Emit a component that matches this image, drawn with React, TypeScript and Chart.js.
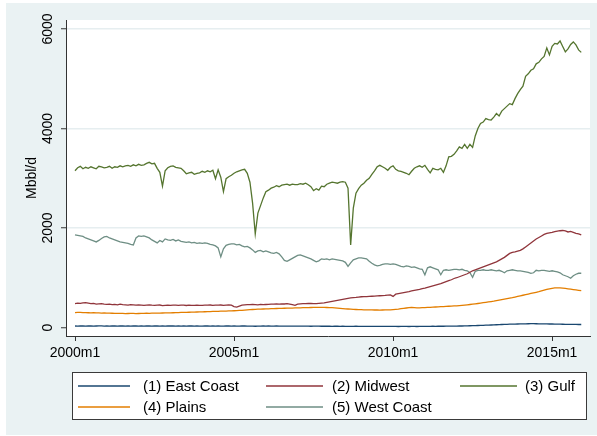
import React, { useEffect, useRef } from "react";
import { Chart, registerables } from "chart.js";

Chart.register(...registerables);

const START_YEAR = 2000;
const N_MONTHS = 192;
const monthCategories: string[] = Array.from({ length: N_MONTHS }, (_, i) => `${START_YEAR + Math.floor(i / 12)}m${(i % 12) + 1}`);
const xTickMonths = [0, 60, 120, 180];
const xTickLabels = ["2000m1", "2005m1", "2010m1", "2015m1"];
const yTickValues = [0, 2000, 4000, 6000];
const yTickLabels = ["0", "2000", "4000", "6000"];
const yTitle = "Mbbl/d";

const seriesNames = ["(1) East Coast", "(2) Midwest", "(3) Gulf", "(4) Plains", "(5) West Coast"];
const seriesColors = ["#1A476F", "#90353B", "#55752F", "#E37E00", "#6E8E84"];

const eastCoast = [
  30, 28, 32, 30, 29, 31, 30, 28, 30, 32, 31, 29,
  30, 29, 31, 30, 28, 30, 31, 29, 30, 28, 30, 31,
  29, 30, 28, 31, 30, 29, 30, 31, 29, 30, 28, 30,
  30, 31, 29, 30, 28, 30, 29, 31, 30, 29, 30, 28,
  29, 30, 31, 29, 30, 28, 30, 29, 27, 30, 31, 29,
  30, 28, 29, 30, 31, 29, 28, 26, 25, 28, 29, 30,
  29, 30, 28, 29, 30, 28, 27, 29, 28, 27, 28, 27,
  26, 27, 28, 26, 27, 25, 26, 27, 26, 25, 26, 25,
  25, 24, 26, 25, 24, 25, 23, 24, 22, 24, 25, 24,
  23, 24, 22, 23, 22, 21, 22, 23, 22, 21, 22, 21,
  21, 22, 20, 21, 22, 21, 20, 21, 22, 20, 21, 22,
  22, 23, 24, 25, 24, 25, 26, 25, 26, 27, 26, 27,
  28, 30, 30, 32, 34, 35, 36, 38, 40, 42, 44, 46,
  48, 50, 52, 55, 58, 60, 62, 64, 66, 68, 68, 70,
  72, 74, 74, 75, 76, 76, 75, 74, 73, 72, 72, 70,
  70, 68, 68, 66, 65, 64, 64, 63, 62, 62, 60, 60,
];

const midwest = [
  480, 490, 485, 495, 500, 490, 480, 485, 470, 475, 480, 470,
  465, 470, 460, 465, 455, 470, 460, 455, 450, 460, 455, 450,
  455, 450, 445, 450, 455, 448, 445, 450, 452, 440, 445, 450,
  445, 450, 448, 445, 450, 448, 442, 450, 446, 444, 450, 446,
  445, 450, 448, 452, 446, 450, 448, 452, 445, 450, 455, 448,
  420, 410, 430, 450, 455, 460, 458, 462, 460, 455, 465, 460,
  462, 465, 468, 470, 472, 470, 475, 472, 478, 470, 460, 445,
  470, 475, 478, 480, 482, 485, 480, 478, 485, 490, 495, 505,
  515, 525, 535, 545, 555, 566, 575, 585, 595, 600, 605, 612,
  618, 620, 622, 625, 628, 630, 635, 638, 642, 645, 650, 655,
  625, 670, 680, 690, 700, 710, 720, 735, 745, 755, 765, 780,
  790, 805, 820, 835, 850, 865, 880, 900, 920, 940, 960, 985,
  1000, 1020, 1040, 1060, 1080, 1110, 1140, 1160, 1180, 1200, 1220, 1240,
  1260, 1280, 1300, 1320, 1350, 1380, 1410, 1450, 1490, 1510, 1520, 1535,
  1550, 1580, 1620, 1660, 1700, 1740, 1780, 1810, 1840, 1870, 1890, 1900,
  1910, 1925, 1935, 1945, 1950, 1940, 1920, 1930, 1910, 1890, 1880, 1860,
];

const gulf = [
  3150, 3210, 3240, 3190, 3220, 3200, 3230, 3210, 3190, 3240, 3230, 3210,
  3220, 3240, 3200, 3230, 3220, 3250, 3230, 3250, 3260, 3240, 3270, 3250,
  3280, 3260, 3270, 3300, 3320, 3290, 3300, 3200, 3120, 2840, 3150, 3210,
  3240, 3250, 3220, 3210, 3200, 3150, 3090, 3110, 3120, 3080, 3100, 3110,
  3140, 3120, 3150, 3130, 3160, 2990, 3170, 3020, 2730, 2990, 3030, 3060,
  3100, 3130, 3150, 3170, 3180, 3100, 2920, 2500, 1880, 2300, 2450, 2600,
  2730, 2760, 2800, 2820, 2850, 2830, 2860, 2870, 2880, 2860, 2880, 2870,
  2870, 2890, 2880, 2900, 2870, 2830, 2750, 2790, 2760, 2840, 2830, 2880,
  2900, 2920, 2910, 2900, 2920, 2930, 2920, 2800, 1660, 2400, 2700, 2790,
  2860, 2900, 2960, 3000, 3080, 3150, 3230, 3260, 3230, 3200, 3160, 3220,
  3250, 3180, 3150, 3140, 3120, 3100, 3070, 3140, 3200, 3230, 3250, 3220,
  3260, 3180, 3110, 3200, 3180, 3170, 3200, 3120, 3250, 3430, 3440, 3480,
  3550, 3630, 3600, 3680, 3600, 3680, 3620, 3850, 4000, 4100, 4130, 4200,
  4180, 4170, 4230, 4300, 4250, 4350, 4400, 4450, 4500, 4480, 4600, 4700,
  4780, 4850, 5050, 5100, 5170, 5200, 5300, 5330, 5400, 5450, 5620, 5480,
  5650, 5710, 5700, 5760, 5650, 5540, 5600, 5690, 5740, 5680, 5580, 5530,
];

const plains = [
  300, 302, 305, 300, 298, 296, 295, 297, 294, 292, 290, 292,
  290, 288, 286, 285, 284, 283, 282, 280, 281, 283, 282, 280,
  281, 283, 284, 286, 285, 287, 288, 290, 289, 291, 292, 294,
  295, 296, 298, 300, 302, 303, 305, 306, 308, 310, 311, 312,
  314, 316, 318, 320, 322, 324, 325, 327, 329, 331, 333, 335,
  337, 340, 343, 346, 350, 354, 358, 362, 365, 368, 370, 372,
  374, 376, 378, 380, 382, 384, 386, 387, 389, 390, 391, 393,
  394, 396, 398, 399, 400, 402, 403, 404, 405, 406, 404, 402,
  400, 398, 395, 390, 385, 380, 376, 372, 368, 365, 362, 360,
  358, 356, 355, 354, 353, 352, 352, 351, 352, 353, 354, 356,
  360, 365, 370, 378, 385, 392, 398, 404, 400, 396, 395, 398,
  400, 403, 406, 409, 412, 415, 418, 421, 424, 427, 430, 433,
  436, 440, 445, 450, 456, 462, 468, 475, 482, 490, 498, 506,
  514, 522, 530, 540, 550, 560, 570, 580, 590, 600, 612, 624,
  636, 648, 660, 672, 684, 696, 708, 720, 735, 750, 765, 778,
  788, 795, 798, 795, 790, 785, 778, 770, 762, 755, 748, 740,
];

const westCoast = [
  1860, 1850, 1840, 1830, 1800, 1780, 1760, 1740, 1720, 1750, 1790, 1820,
  1830, 1800, 1780, 1760, 1740, 1720, 1710, 1700, 1690, 1670, 1660, 1800,
  1840, 1830, 1840, 1820, 1800, 1760, 1730, 1700, 1750, 1720, 1780, 1760,
  1750, 1770, 1740, 1760, 1730, 1720, 1710, 1720, 1700, 1710, 1690, 1700,
  1690, 1700, 1690, 1670, 1660, 1640, 1600, 1420, 1580, 1650, 1670, 1680,
  1680, 1660, 1670, 1640, 1620, 1630, 1600, 1560, 1510, 1540, 1550, 1520,
  1540, 1520, 1500, 1490, 1510, 1480, 1420, 1350, 1330, 1360, 1390, 1420,
  1450, 1460, 1440, 1420, 1400, 1380, 1350, 1320, 1340, 1380, 1370, 1380,
  1360, 1380, 1370, 1360, 1350, 1340, 1310, 1230, 1300, 1360, 1380, 1400,
  1400, 1390, 1380, 1330, 1290, 1260, 1240, 1250, 1270, 1280, 1280, 1270,
  1280, 1270, 1250, 1230, 1220, 1240, 1230, 1210, 1220, 1200, 1180, 1170,
  1060, 1200, 1220, 1200, 1180, 1160, 1060, 1150, 1160, 1150, 1160, 1170,
  1170, 1160, 1170, 1150, 1140, 1100, 1010, 1130, 1150, 1150, 1160, 1150,
  1150, 1160, 1150, 1140, 1150, 1130, 1100, 1140, 1150, 1160, 1150, 1140,
  1140, 1130, 1120, 1110, 1090, 1100, 1150, 1140, 1150, 1150, 1140, 1130,
  1140, 1130, 1120, 1100, 1060, 1040, 1020, 990, 1040, 1070, 1090, 1090,
];

const seriesValues = [eastCoast, midwest, gulf, plains, westCoast];

const FONT = "'Liberation Sans', Arial, Helvetica, sans-serif";

const stataPlugin = {
  id: "stataDecor",
  beforeDraw(chart: any) {
    const { ctx, width, height, chartArea } = chart;
    ctx.save();
    ctx.fillStyle = "#ffffff";
    ctx.fillRect(0, 0, width, height);
    ctx.fillStyle = "#EAF2F3";
    ctx.fillRect(6, 3, width - 6, height - 4);
    ctx.fillStyle = "#ffffff";
    ctx.fillRect(chartArea.left, chartArea.top, chartArea.right - chartArea.left, chartArea.bottom - chartArea.top);
    ctx.restore();
  },
  afterDraw(chart: any) {
    const { ctx } = chart;
    const yScale = chart.scales.y;
    ctx.save();
    ctx.fillStyle = "#000";
    ctx.font = `14px ${FONT}`;
    ctx.textAlign = "center";
    ctx.textBaseline = "middle";
    yTickValues.forEach((v, i) => {
      const py = yScale.getPixelForValue(v);
      ctx.save();
      ctx.translate(48, py);
      ctx.rotate(-Math.PI / 2);
      ctx.fillText(yTickLabels[i], 0, 0);
      ctx.restore();
    });
    // axis title
    ctx.save();
    ctx.font = `14px ${FONT}`;
    ctx.translate(32, (chart.chartArea.top + chart.chartArea.bottom) / 2);
    ctx.rotate(-Math.PI / 2);
    ctx.fillText(yTitle, 0, 0);
    ctx.restore();

    // legend
    const bx = 72, by = 372, bw = 515, bh = 48;
    ctx.fillStyle = "#ffffff";
    ctx.fillRect(bx, by, bw, bh);
    ctx.strokeStyle = "#3a3a3a";
    ctx.lineWidth = 1;
    ctx.strokeRect(bx + 0.5, by + 0.5, bw - 1, bh - 1);
    const cols = [
      { x0: 78, x1: 130, tx: 143 },
      { x0: 266, x1: 323, tx: 332 },
      { x0: 460, x1: 517, tx: 525 },
    ];
    const rows = [386, 407];
    ctx.font = `15px ${FONT}`;
    ctx.textAlign = "left";
    ctx.textBaseline = "middle";
    chart.data.datasets.forEach((ds: any, i: number) => {
      const c = cols[i % 3];
      const r = rows[Math.floor(i / 3)];
      ctx.strokeStyle = ds.borderColor;
      ctx.lineWidth = 1.4;
      ctx.beginPath();
      ctx.moveTo(c.x0, r);
      ctx.lineTo(c.x1, r);
      ctx.stroke();
      ctx.fillStyle = "#000";
      ctx.fillText(ds.label, c.tx, r + 0.5);
    });
    ctx.restore();
  },
};

export default function App() {
  const canvasRef = useRef<HTMLCanvasElement | null>(null);

  useEffect(() => {
    if (!canvasRef.current) return;
    const datasets = seriesValues.map((vals, si) => ({
      label: seriesNames[si],
      data: vals.map((v, i) => ({ x: i, y: v, month: monthCategories[i] })),
      borderColor: seriesColors[si],
      backgroundColor: seriesColors[si],
      borderWidth: 1.3,
      pointRadius: 0,
      fill: false,
      tension: 0,
    }));
    const chart = new Chart(canvasRef.current, {
      type: "line",
      data: { datasets },
      plugins: [stataPlugin],
      options: {
        responsive: false,
        animation: false,
        parsing: false as any,
        layout: { padding: { top: 20, right: 7, left: 0, bottom: 0 } },
        plugins: { legend: { display: false }, tooltip: { enabled: false } },
        scales: {
          x: {
            type: "linear",
            min: -3.4,
            max: 194.3,
            afterBuildTicks: (scale: any) => {
              scale.ticks = xTickMonths.map((v) => ({ value: v }));
            },
            afterFit: (scale: any) => {
              scale.height = 100;
            },
            ticks: {
              autoSkip: false,
              maxRotation: 0,
              minRotation: 0,
              padding: 4,
              color: "#000",
              font: { family: FONT, size: 14 },
              callback: (v: any) => {
                const idx = xTickMonths.indexOf(Number(v));
                return idx >= 0 ? xTickLabels[idx] : "";
              },
            },
            grid: {
              drawOnChartArea: false,
              drawTicks: true,
              tickLength: 5,
              tickColor: "#333",
              tickWidth: 1,
            },
            border: { display: true, color: "#333", width: 1 },
          },
          y: {
            type: "linear",
            min: -171,
            max: 6181,
            afterBuildTicks: (scale: any) => {
              scale.ticks = yTickValues.map((v) => ({ value: v }));
            },
            afterFit: (scale: any) => {
              scale.width = 66;
            },
            ticks: { display: false },
            grid: {
              color: (c: any) => (c.tick && c.tick.value === 0 ? "rgba(0,0,0,0)" : "#E6EEF0"),
              lineWidth: 1.5,
              drawTicks: true,
              tickLength: 5,
              tickColor: "#333",
              tickWidth: 1,
            },
            border: { display: true, color: "#333", width: 1 },
          },
        },
      },
    });
    return () => chart.destroy();
  }, []);

  return (
    <div style={{ position: "fixed", left: 0, top: 0, width: 597, height: 436 }}>
      <canvas ref={canvasRef} width={597} height={436} style={{ display: "block", width: 597, height: 436 }} />
    </div>
  );
}
